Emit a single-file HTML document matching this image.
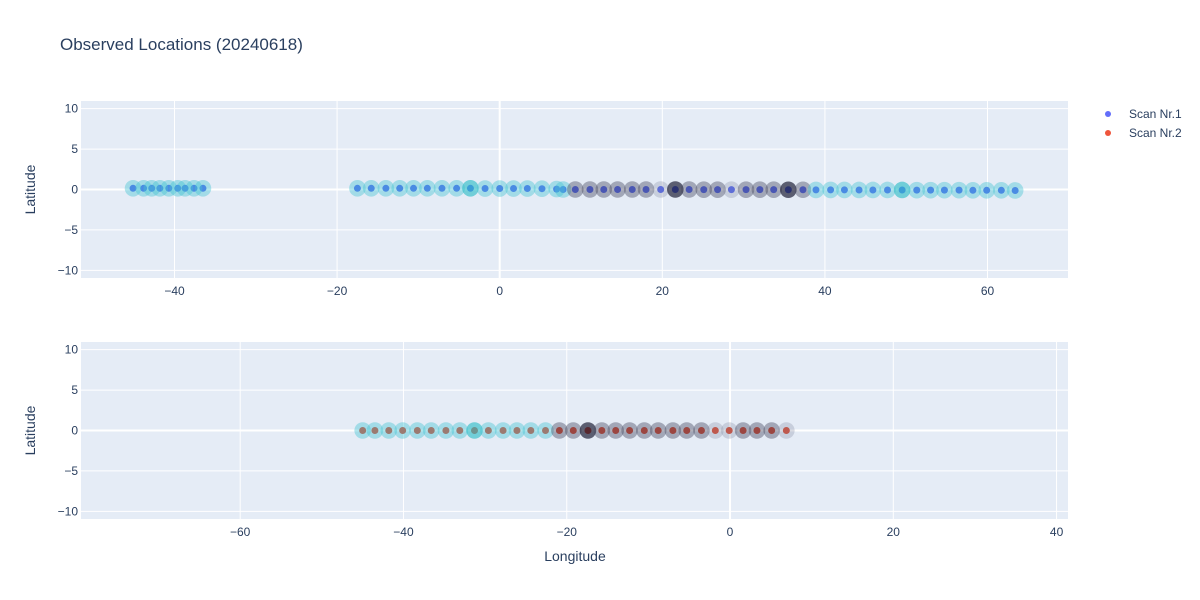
<!DOCTYPE html>
<html><head><meta charset="utf-8"><style>
body{margin:0;background:#fff;}
svg{display:block;font-family:"Liberation Sans",sans-serif;}
</style></head><body>
<svg id="chart" width="1200" height="600">
<text x="60" y="50" font-size="17" fill="#2a3f5f">Observed Locations (20240618)</text>
</svg>
<script>
// Scan 1 data
const lon1 = [-45.1,-43.8,-42.8,-41.8,-40.7,-39.6,-38.7,-37.6,-36.5,
 -17.5,-15.8,-14.0,-12.3,-10.6,-8.9,-7.1,-5.3,-3.6,-1.8,0.0,1.7,3.4,5.2,7.0,7.8,
 9.3,11.1,12.8,14.5,16.3,18.0,19.8,21.6,23.3,25.1,26.8,28.5,30.3,32.0,33.7,35.5,37.3,
 38.9,40.7,42.4,44.2,45.9,47.7,49.5,51.3,53.0,54.7,56.5,58.2,59.9,61.7,63.4];
const lat1 = [0.15,0.15,0.15,0.15,0.15,0.15,0.15,0.15,0.15,
 0.15,0.15,0.15,0.15,0.15,0.15,0.15,0.15,0.15,0.12,0.12,0.12,0.12,0.1,0.05,0.0,
 0.0,0.0,0.0,0.0,0.0,0.0,0.0,0.0,0.0,-0.02,-0.02,-0.02,-0.02,-0.02,-0.02,-0.03,-0.03,
 -0.05,-0.05,-0.05,-0.06,-0.06,-0.06,-0.06,-0.08,-0.08,-0.08,-0.08,-0.1,-0.1,-0.1,-0.12];
const cat1 = [1,1,1,1,1,1,1,1,1,
 1,1,1,1,1,1,1,1,2,1,1,1,1,1,1,1,
 4,4,4,4,4,4,3,5,4,4,4,3,4,4,4,5,4,
 1,1,1,1,1,1,2,1,1,1,1,1,1,1,1];
// Scan 2 data
const lon2 = [-45.0,-43.5,-41.8,-40.1,-38.3,-36.6,-34.8,-33.1,-31.3,-29.6,-27.8,-26.1,-24.4,-22.6,
 -20.9,-19.2,-17.4,-15.7,-14.0,-12.3,-10.5,-8.8,-7.0,-5.3,-3.5,-1.8,-0.1,1.6,3.3,5.1,6.9];
const lat2 = [0,0,0,0,0,0,0,0,0,0,0,0,0,0,0,0,0,0,0,0,0,0,0,0,0,0,0,0,0,0,0];
const cat2 = [1,1,1,1,1,1,1,1,2,1,1,1,1,1,4,4,5,4,4,4,4,4,4,4,4,3,3,4,4,4,3];
const xTicks1 = [-40,-20,0,20,40,60];
const xTicks2 = [-60,-40,-20,0,20,40];
const yTicks = [10,5,0,-5,-10];

const svg = document.getElementById('chart');
const NS = 'http://www.w3.org/2000/svg';
function mk(tag, attrs, parent){const e=document.createElementNS(NS,tag);for(const k in attrs)e.setAttribute(k,attrs[k]);(parent||svg).appendChild(e);return e;}
const halo = {1:'rgba(70,195,210,0.42)',2:'rgba(50,190,200,0.65)',3:'rgba(130,135,160,0.3)',4:'rgba(70,72,95,0.42)',5:'rgba(25,27,50,0.68)'};

function panel(idx, top, bottom, xmin, xmax, xTicks, lon, lat, cat, dotColor){
  const L=81,R=1068;
  const sx=v=>L+(v-xmin)/(xmax-xmin)*(R-L);
  const sy=v=>top+(10.95-v)/(21.9)*(bottom-top);
  const g=mk('g',{});
  
  
  mk('rect',{x:L,y:top,width:R-L,height:bottom-top,fill:'#e5ecf6'},g);
  xTicks.forEach(t=>{
    const x=sx(t);
    const ln=mk('line',{x1:x,x2:x,y1:top,y2:bottom,stroke:'#fff','stroke-width':t===0?2:1},g);
    
    
    const tx=mk('text',{x:x,y:bottom+17,'font-size':12,fill:'#2a3f5f','text-anchor':'middle'},g);
    tx.textContent=String(t).replace('-','\u2212');
    
    
  });
  yTicks.forEach(t=>{
    const y=sy(t);
    const ln=mk('line',{x1:L,x2:R,y1:y,y2:y,stroke:'#fff','stroke-width':t===0?2:1},g);
    
    
    const tx=mk('text',{x:L-3,y:y+4,'font-size':12,fill:'#2a3f5f','text-anchor':'end'},g);
    tx.textContent=String(t).replace('-','\u2212');
    
    
  });
  const yt=mk('text',{x:0,y:0,'font-size':14,fill:'#2a3f5f','text-anchor':'middle',transform:`translate(35,${(top+bottom)/2}) rotate(-90)`},g);
  yt.textContent='Latitude';
  
  
  lon.forEach((v,i)=>{
    const d=mk('circle',{cx:sx(v),cy:sy(lat[i]),r:3.5,fill:dotColor},g);
    
    
  });
  lon.forEach((v,i)=>{
    const h=mk('circle',{cx:sx(v),cy:sy(lat[i]),r:8.3,fill:halo[cat[i]]},g);
    
    
  });
}
panel(1,101,278,-51.5,69.9,xTicks1,lon1,lat1,cat1,'#4f63f0');
panel(2,342,519,-79.5,41.4,xTicks2,lon2,lat2,cat2,'#d9452b');

const xt=mk('text',{x:575,y:561,'font-size':14,fill:'#2a3f5f','text-anchor':'middle'});
xt.textContent='Longitude';



[['Scan Nr.1','#636efa',114],['Scan Nr.2','#EF553B',133]].forEach(([n,c,y])=>{
  const g=mk('g',{});
  
  
  mk('circle',{cx:1108,cy:y,r:3,fill:c},g);
  const t=mk('text',{x:1129,y:y+4,'font-size':12,fill:'#2a3f5f'},g);
  t.textContent=n;
});
</script>
</body></html>
